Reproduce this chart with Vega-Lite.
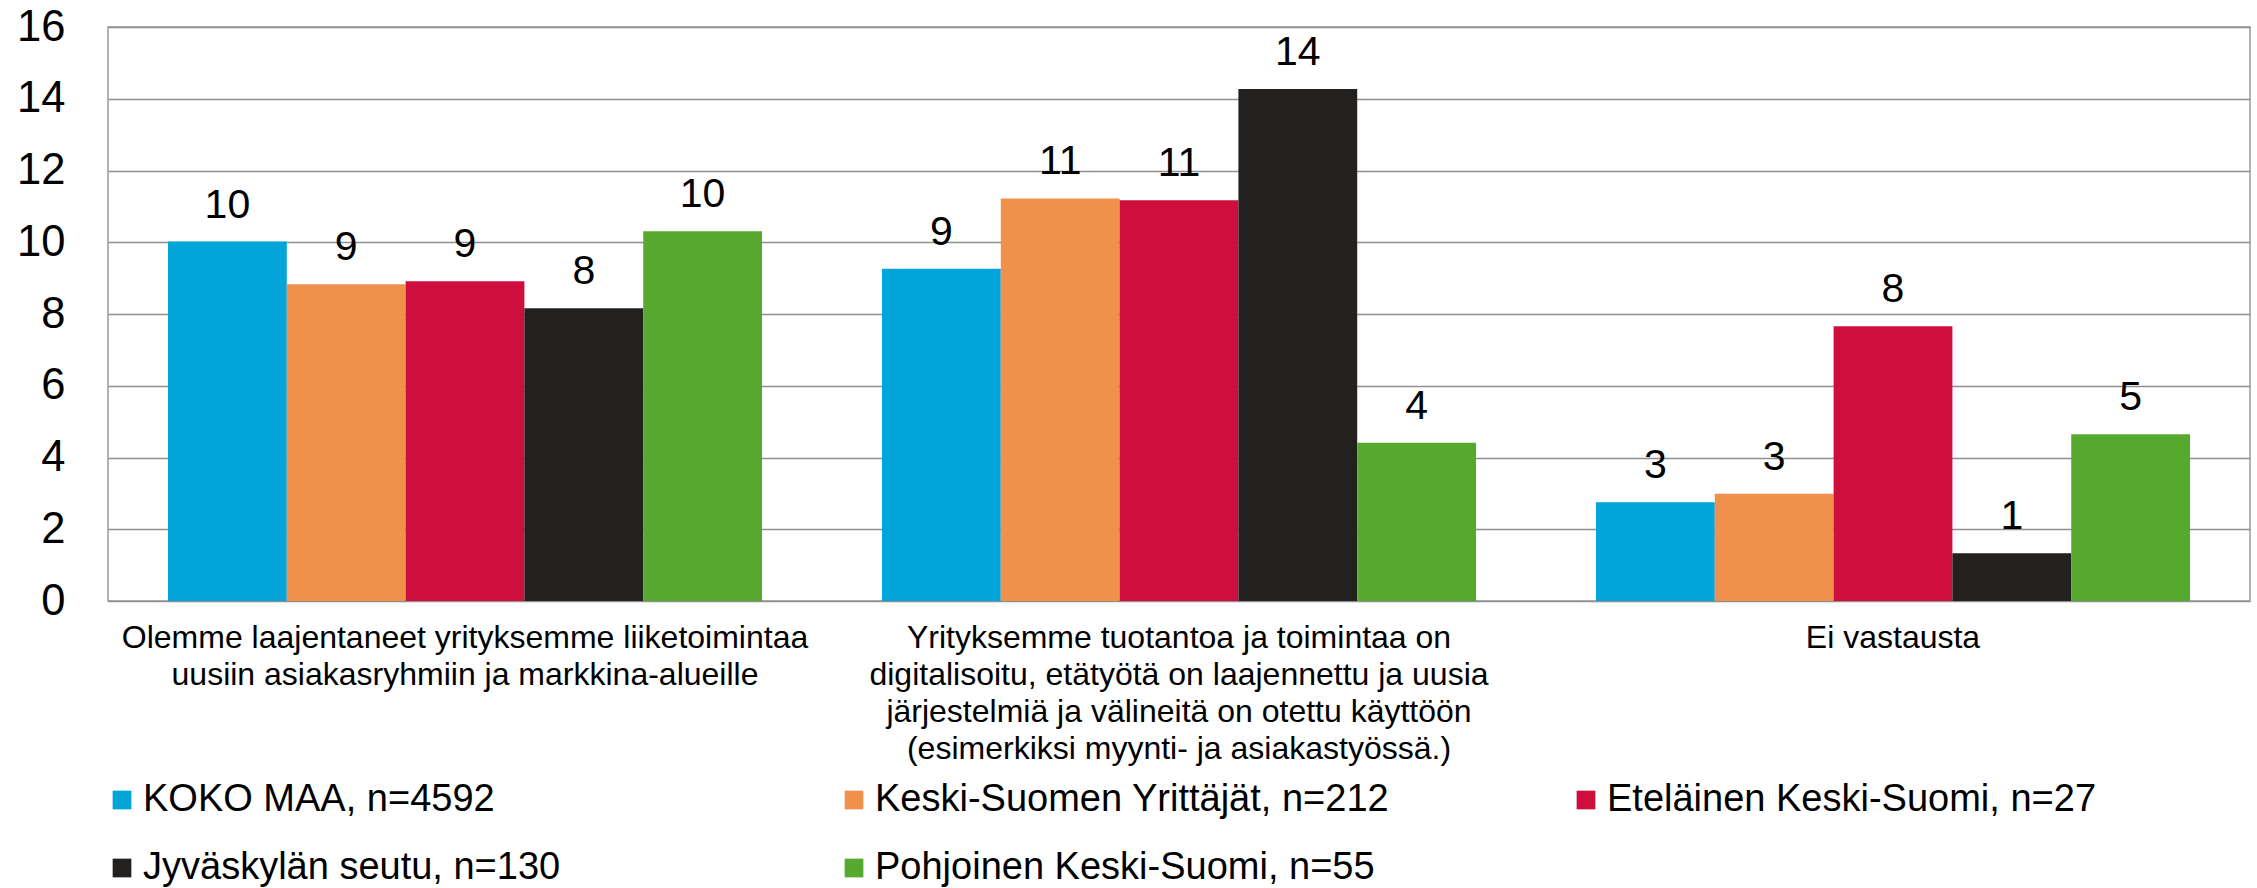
{
  "$schema": "https://vega.github.io/schema/vega-lite/v6.json",
  "autosize": {"type": "none"},
  "padding": {"left": 108, "top": 27, "right": 7, "bottom": 287},
  "width": 2142,
  "height": 574,
  "background": "white",
  "config": {
    "font": "Liberation Sans",
    "view": {"stroke": "#9a9a9a", "strokeWidth": 1.5},
    "axis": {"labelColor": "#000000", "labelFont": "Liberation Sans"},
    "legend": {"labelColor": "#000000", "labelFont": "Liberation Sans"}
  },
  "data": {
    "values": [
      {"kysymys": "Olemme laajentaneet yrityksemme liiketoimintaa|uusiin asiakasryhmiin ja markkina-alueille", "ryhma": "KOKO MAA, n=4592", "arvo": 10.02},
      {"kysymys": "Olemme laajentaneet yrityksemme liiketoimintaa|uusiin asiakasryhmiin ja markkina-alueille", "ryhma": "Keski-Suomen Yrittäjät, n=212", "arvo": 8.83},
      {"kysymys": "Olemme laajentaneet yrityksemme liiketoimintaa|uusiin asiakasryhmiin ja markkina-alueille", "ryhma": "Eteläinen Keski-Suomi, n=27", "arvo": 8.91},
      {"kysymys": "Olemme laajentaneet yrityksemme liiketoimintaa|uusiin asiakasryhmiin ja markkina-alueille", "ryhma": "Jyväskylän seutu, n=130", "arvo": 8.16},
      {"kysymys": "Olemme laajentaneet yrityksemme liiketoimintaa|uusiin asiakasryhmiin ja markkina-alueille", "ryhma": "Pohjoinen Keski-Suomi, n=55", "arvo": 10.31},
      {"kysymys": "Yrityksemme tuotantoa ja toimintaa on|digitalisoitu, etätyötä on laajennettu ja uusia|järjestelmiä ja välineitä on otettu käyttöön|(esimerkiksi myynti- ja asiakastyössä.)", "ryhma": "KOKO MAA, n=4592", "arvo": 9.26},
      {"kysymys": "Yrityksemme tuotantoa ja toimintaa on|digitalisoitu, etätyötä on laajennettu ja uusia|järjestelmiä ja välineitä on otettu käyttöön|(esimerkiksi myynti- ja asiakastyössä.)", "ryhma": "Keski-Suomen Yrittäjät, n=212", "arvo": 11.22},
      {"kysymys": "Yrityksemme tuotantoa ja toimintaa on|digitalisoitu, etätyötä on laajennettu ja uusia|järjestelmiä ja välineitä on otettu käyttöön|(esimerkiksi myynti- ja asiakastyössä.)", "ryhma": "Eteläinen Keski-Suomi, n=27", "arvo": 11.17},
      {"kysymys": "Yrityksemme tuotantoa ja toimintaa on|digitalisoitu, etätyötä on laajennettu ja uusia|järjestelmiä ja välineitä on otettu käyttöön|(esimerkiksi myynti- ja asiakastyössä.)", "ryhma": "Jyväskylän seutu, n=130", "arvo": 14.27},
      {"kysymys": "Yrityksemme tuotantoa ja toimintaa on|digitalisoitu, etätyötä on laajennettu ja uusia|järjestelmiä ja välineitä on otettu käyttöön|(esimerkiksi myynti- ja asiakastyössä.)", "ryhma": "Pohjoinen Keski-Suomi, n=55", "arvo": 4.41},
      {"kysymys": "Ei vastausta", "ryhma": "KOKO MAA, n=4592", "arvo": 2.75},
      {"kysymys": "Ei vastausta", "ryhma": "Keski-Suomen Yrittäjät, n=212", "arvo": 2.99},
      {"kysymys": "Ei vastausta", "ryhma": "Eteläinen Keski-Suomi, n=27", "arvo": 7.66},
      {"kysymys": "Ei vastausta", "ryhma": "Jyväskylän seutu, n=130", "arvo": 1.33},
      {"kysymys": "Ei vastausta", "ryhma": "Pohjoinen Keski-Suomi, n=55", "arvo": 4.65}
    ]
  },
  "encoding": {
    "x": {
      "field": "kysymys",
      "type": "nominal",
      "sort": null,
      "scale": {"paddingInner": 0.168, "paddingOuter": 0.084},
      "axis": {
        "title": null,
        "labelAngle": 0,
        "labelExpr": "split(datum.value, '|')",
        "labelFontSize": 32,
        "labelLineHeight": 37,
        "labelLimit": 0,
        "labelPadding": 21,
        "labelBaseline": "top",
        "ticks": false,
        "domain": false
      }
    },
    "xOffset": {
      "field": "ryhma",
      "type": "nominal",
      "sort": ["KOKO MAA, n=4592", "Keski-Suomen Yrittäjät, n=212", "Eteläinen Keski-Suomi, n=27", "Jyväskylän seutu, n=130", "Pohjoinen Keski-Suomi, n=55"],
      "scale": {"paddingInner": 0, "paddingOuter": 0}
    },
    "y": {
      "field": "arvo",
      "type": "quantitative",
      "scale": {"domain": [0, 16], "nice": false},
      "axis": {
        "title": null,
        "values": [0, 2, 4, 6, 8, 10, 12, 14, 16],
        "labelFontSize": 43.5,
        "labelPadding": 43,
        "ticks": false,
        "domain": false,
        "gridColor": "#8f8f8f",
        "gridWidth": 1.5
      }
    }
  },
  "layer": [
    {
      "mark": {"type": "bar"},
      "encoding": {
        "color": {
          "field": "ryhma",
          "type": "nominal",
          "sort": ["KOKO MAA, n=4592", "Keski-Suomen Yrittäjät, n=212", "Eteläinen Keski-Suomi, n=27", "Jyväskylän seutu, n=130", "Pohjoinen Keski-Suomi, n=55"],
          "scale": {
            "domain": ["KOKO MAA, n=4592", "Keski-Suomen Yrittäjät, n=212", "Eteläinen Keski-Suomi, n=27", "Jyväskylän seutu, n=130", "Pohjoinen Keski-Suomi, n=55"],
            "range": ["#02A4DA", "#EF914C", "#CE0F3E", "#22211F", "#57A82E"]
          },
          "legend": {
            "title": null,
            "orient": "none",
            "legendX": -5,
            "legendY": 754,
            "direction": "horizontal",
            "columns": 3,
            "gridAlign": "all",
            "columnPadding": 177,
            "rowPadding": 30,
            "padding": 0,
            "symbolType": "square",
            "symbolSize": 350,
            "symbolStrokeWidth": 0,
            "labelFontSize": 38,
            "labelOffset": 2,
            "labelLimit": 0
          }
        }
      }
    },
    {
      "mark": {"type": "text", "baseline": "middle", "dy": -36, "fontSize": 41, "color": "#000000"},
      "encoding": {
        "text": {"field": "arvo", "type": "quantitative", "format": ".0f"}
      }
    }
  ]
}
